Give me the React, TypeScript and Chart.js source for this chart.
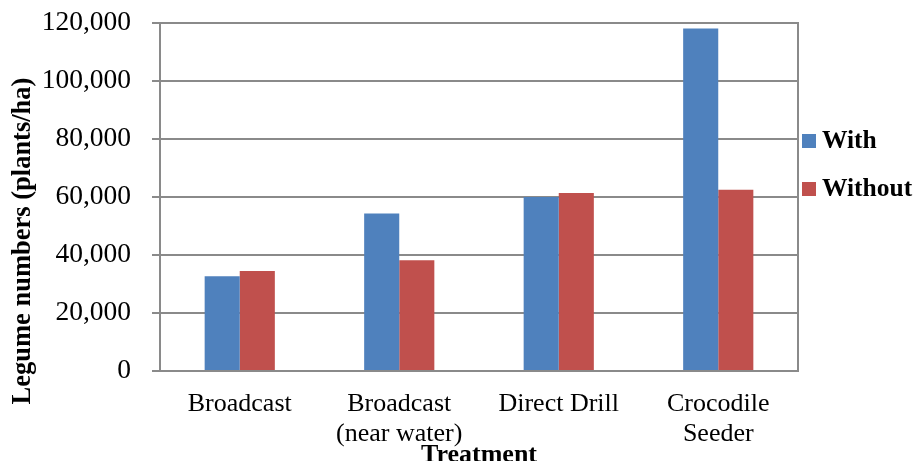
import React, { useEffect, useRef } from 'react';
import { Chart, registerables } from 'chart.js';

Chart.register(...registerables);

// ---- data ----
const categories: (string | string[])[] = [
  'Broadcast',
  ['Broadcast', '(near water)'],
  'Direct Drill',
  ['Crocodile', 'Seeder'],
];
const seriesNames = ['With', 'Without'];
const withValues = [32700, 54300, 60000, 118100];
const withoutValues = [34500, 38200, 61400, 62500];
const yTickValues = [0, 20000, 40000, 60000, 80000, 100000, 120000];
const yTitle = 'Legume numbers (plants/ha)';
const xTitle = 'Treatment';

// ---- style ----
const FONT = "'Liberation Serif', 'Times New Roman', Times, serif";
const GRID = '#8a8a8a';
const COLORS = ['#4F81BD', '#C0504D'];

const decorations = {
  id: 'decorations',
  afterDraw(chart: any) {
    const { ctx, chartArea } = chart;
    const { top, bottom, right, left } = chartArea;
    ctx.save();
    // right frame line
    ctx.strokeStyle = GRID;
    ctx.lineWidth = 2;
    ctx.beginPath();
    ctx.moveTo(right, top - 1);
    ctx.lineTo(right, bottom + 1);
    ctx.stroke();

    // y axis title
    ctx.save();
    ctx.translate(left - 137, (top + bottom) / 2 + 44);
    ctx.rotate(-Math.PI / 2);
    ctx.font = `bold 26.5px ${FONT}`;
    ctx.fillStyle = '#000';
    ctx.textAlign = 'center';
    ctx.textBaseline = 'middle';
    ctx.fillText(yTitle, 0, 0);
    ctx.restore();

    // legend
    ctx.font = `bold 25.5px ${FONT}`;
    ctx.textAlign = 'left';
    ctx.textBaseline = 'middle';
    chart.data.datasets.forEach((ds: any, i: number) => {
      const cy = (top + bottom) / 2 - 56 + i * 48;
      ctx.fillStyle = ds.backgroundColor;
      ctx.fillRect(right + 4, cy - 7, 14, 14);
      ctx.fillStyle = '#000';
      ctx.fillText(ds.label, right + 24, cy);
    });
    ctx.restore();
  },
};

export default function App() {
  const ref = useRef<HTMLCanvasElement>(null);

  useEffect(() => {
    if (!ref.current) return;
    const chart = new Chart(ref.current, {
      type: 'bar',
      data: {
        labels: categories as any,
        datasets: [
          {
            label: seriesNames[0],
            data: withValues,
            backgroundColor: COLORS[0],
            categoryPercentage: 0.44,
            barPercentage: 1,
          },
          {
            label: seriesNames[1],
            data: withoutValues,
            backgroundColor: COLORS[1],
            categoryPercentage: 0.44,
            barPercentage: 1,
          },
        ],
      },
      options: {
        animation: false,
        responsive: true,
        maintainAspectRatio: false,
        layout: { padding: { top: 23, right: 119, bottom: 0, left: 0 } },
        plugins: {
          legend: { display: false },
          tooltip: { enabled: false },
        },
        scales: {
          x: {
            type: 'category',
            position: 'bottom',
            offset: true,
            grid: { display: false, drawTicks: false },
            border: { display: true, color: GRID, width: 2 },
            ticks: {
              color: '#000',
              font: { family: FONT, size: 26, lineHeight: 1.15 },
              padding: 18,
              maxRotation: 0,
              autoSkip: false,
            },
            title: {
              display: true,
              text: xTitle,
              color: '#000',
              font: { family: FONT, size: 26, weight: 'bold', lineHeight: 1.2 },
              padding: { top: 0, bottom: -10 },
            },
            afterFit: (scale: any) => {
              scale.height = 90;
            },
          },
          y: {
            type: 'linear',
            position: 'left',
            min: yTickValues[0],
            max: yTickValues[yTickValues.length - 1],
            afterBuildTicks: (scale: any) => {
              scale.ticks = yTickValues.map((v) => ({ value: v }));
            },
            grid: { color: GRID, lineWidth: 2, drawTicks: true, tickLength: 8 },
            border: { display: true, color: GRID, width: 2 },
            ticks: {
              color: '#000',
              font: { family: FONT, size: 27.5 },
              padding: 21,
              callback: (v: any) => Number(v).toLocaleString('en-US'),
            },
            afterFit: (scale: any) => {
              scale.width = 160;
              scale.paddingTop = 0;
              scale.paddingBottom = 0;
            },
          },
        },
      } as any,
      plugins: [decorations],
    });
    return () => chart.destroy();
  }, []);

  return (
    <div style={{ position: 'fixed', left: 0, top: 0, width: 917, height: 461, background: '#fff' }}>
      <canvas ref={ref} />
    </div>
  );
}
